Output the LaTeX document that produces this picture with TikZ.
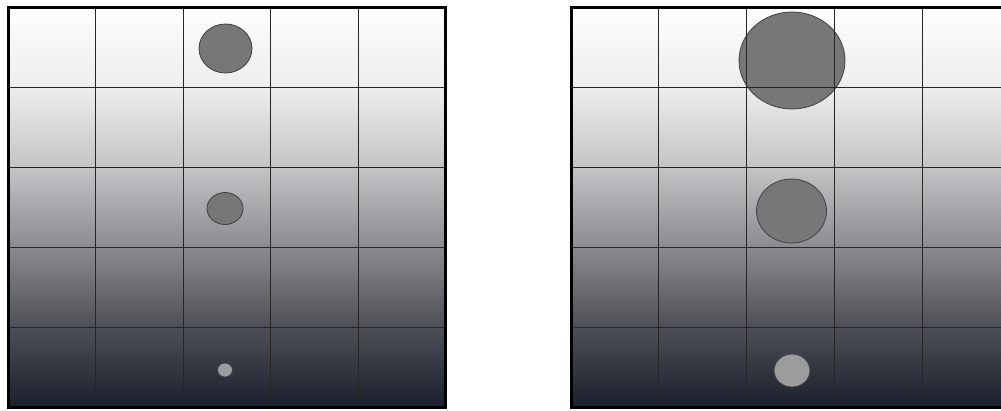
\documentclass[tikz,border=0pt]{standalone}
\usetikzlibrary{shadings}
\definecolor{s0}{HTML}{1A1F2C}
\definecolor{s1}{HTML}{4C4F55}
\definecolor{s2}{HTML}{8A8B8E}
\definecolor{s3}{HTML}{C3C4C6}
\definecolor{s4}{HTML}{EDEDED}
\definecolor{s5}{HTML}{FEFEFE}
\definecolor{dotfill}{HTML}{777777}
\definecolor{dotlight}{HTML}{9C9C9E}
\pgfdeclareverticalshading{panelbg}{100bp}{color(0bp)=(s0); color(25bp)=(s0); color(35bp)=(s1); color(45bp)=(s2); color(55bp)=(s3); color(65bp)=(s4); color(75bp)=(s5); color(100bp)=(s5)}
\tikzset{
  gridline/.style={line width=0.9pt, black!85},
  border/.style={line width=3pt, black},
  dot/.style={fill=dotfill, draw=black!75, line width=0.8pt},
  lightdot/.style={fill=dotlight, draw=black!75, line width=0.8pt},
}
\begin{document}
\begin{tikzpicture}[x=1pt,y=-1pt]
\useasboundingbox (0,0) rectangle (1001,410);
\fill[white] (0,0) rectangle (1001,410);
\begin{scope}
\clip (0,0) rectangle (1001,410);
% left panel
\shade[shading=panelbg] (8,7.5) rectangle (445.5,407.5);
\draw[dot] (225.5,48.5) ellipse [x radius=26.5, y radius=24.5];
\draw[dot] (225,208.5) ellipse [x radius=18, y radius=16];
\draw[lightdot] (225,370) ellipse [x radius=7.5, y radius=7];
\foreach \x in {95.5,183,270.5,358} \draw[gridline] (\x,7.5) -- (\x,407.5);
\foreach \y in {87.5,167.5,247.5,327.5} \draw[gridline] (8,\y) -- (445.5,\y);
\draw[border] (8,7.5) rectangle (445.5,407.5);
% right panel
\shade[shading=panelbg] (571.5,7.5) rectangle (1010,407.5);
\draw[dot] (792,60.5) ellipse [x radius=53, y radius=48.5];
\draw[dot] (791.5,211) ellipse [x radius=35, y radius=32];
\draw[lightdot] (792,370.5) ellipse [x radius=18, y radius=16.5];
\foreach \x in {658.5,746,834,922} \draw[gridline] (\x,7.5) -- (\x,407.5);
\foreach \y in {87.5,167.5,247.5,327.5} \draw[gridline] (571.5,\y) -- (1010,\y);
\draw[border] (571.5,7.5) rectangle (1010,407.5);
\end{scope}
\end{tikzpicture}
\end{document}
